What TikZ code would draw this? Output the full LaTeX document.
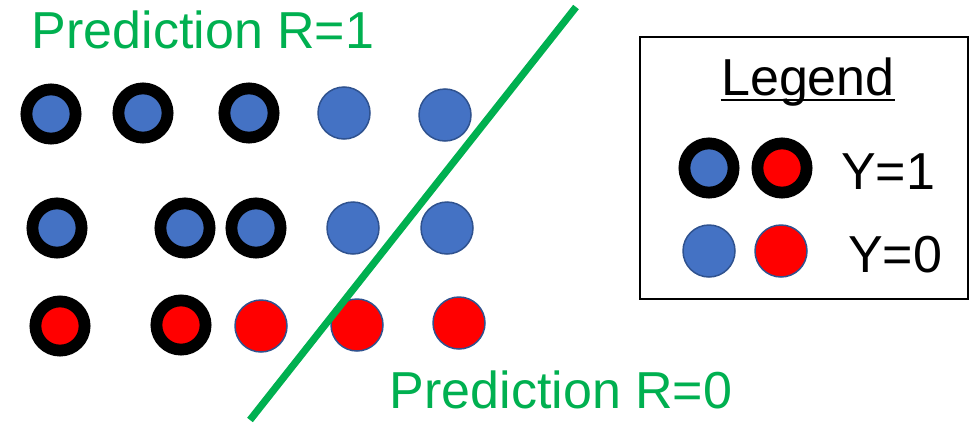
\documentclass[tikz,border=0pt]{standalone}
\usepackage{fontspec}
\setmainfont{Liberation Sans}
\usepackage{tikz}
\usetikzlibrary{positioning}

\definecolor{dotblue}{HTML}{4472C4}
\definecolor{dotred}{HTML}{FF0000}
\definecolor{dotedge}{HTML}{2F528F}
\definecolor{splitgreen}{HTML}{00B050}

\begin{document}
\begin{tikzpicture}[x=0.5pt, y=-0.5pt, semithick]
\tikzstyle{ringdot}=[circle, draw=black, line width=5.9pt, minimum size=24.6pt, inner sep=0pt]
\tikzstyle{plaindot}=[circle, draw=dotedge, line width=0.75pt, minimum size=26pt, inner sep=0pt]
\tikzstyle{bigtext}=[font=\fontsize{26}{31}\selectfont, inner sep=0pt]

\useasboundingbox (0,0) rectangle (973,423);

% row 1
\node[ringdot, fill=dotblue] (a1) at (51,114) {};
\node[ringdot, fill=dotblue] (a2) at (143,113) {};
\node[ringdot, fill=dotblue] (a3) at (249,113) {};
\node[plaindot, fill=dotblue] (a4) at (344,113) {};
\node[plaindot, fill=dotblue] (a5) at (445,115) {};
% row 2
\node[ringdot, fill=dotblue] (b1) at (57,228) {};
\node[ringdot, fill=dotblue] (b2) at (185,228) {};
\node[ringdot, fill=dotblue] (b3) at (256,228) {};
\node[plaindot, fill=dotblue] (b4) at (353,228) {};
\node[plaindot, fill=dotblue] (b5) at (447,228) {};
% row 3
\node[ringdot, fill=dotred] (c1) at (60,326) {};
\node[ringdot, fill=dotred] (c2) at (181,325) {};
\node[plaindot, fill=dotred] (c3) at (261,326) {};
\node[plaindot, fill=dotred] (c4) at (357,325) {};
\node[plaindot, fill=dotred] (c5) at (459,323) {};

% decision line
\coordinate (lo) at (250,420);
\coordinate (hi) at (576,7);
\draw[splitgreen, line width=3.6pt] (lo) -- (hi);

\node[bigtext, text=splitgreen] (r1) at (203,30) {Prediction R=1};
\node[bigtext, text=splitgreen] (r0) at (561,390) {Prediction R=0};

% legend
\node[draw=black, line width=1pt, minimum width=164pt, minimum height=131pt, inner sep=0pt] (box) at (804,168) {};
\node[bigtext, anchor=base] (title) at (808,95) {Legend};
\draw[line width=1pt] ([yshift=-2.6pt]title.base west) -- ([yshift=-2.6pt]title.base east);
\node[ringdot, fill=dotblue] (k1) at (709,168) {};
\node[ringdot, fill=dotred] (k2) at (782,168) {};
\node[plaindot, fill=dotblue] (k3) at (709,251) {};
\node[plaindot, fill=dotred] (k4) at (781,251) {};
\node[bigtext] (y1) at (888,172) {Y=1};
\node[bigtext] (y0) at (895,255) {Y=0};
\end{tikzpicture}
\end{document}
